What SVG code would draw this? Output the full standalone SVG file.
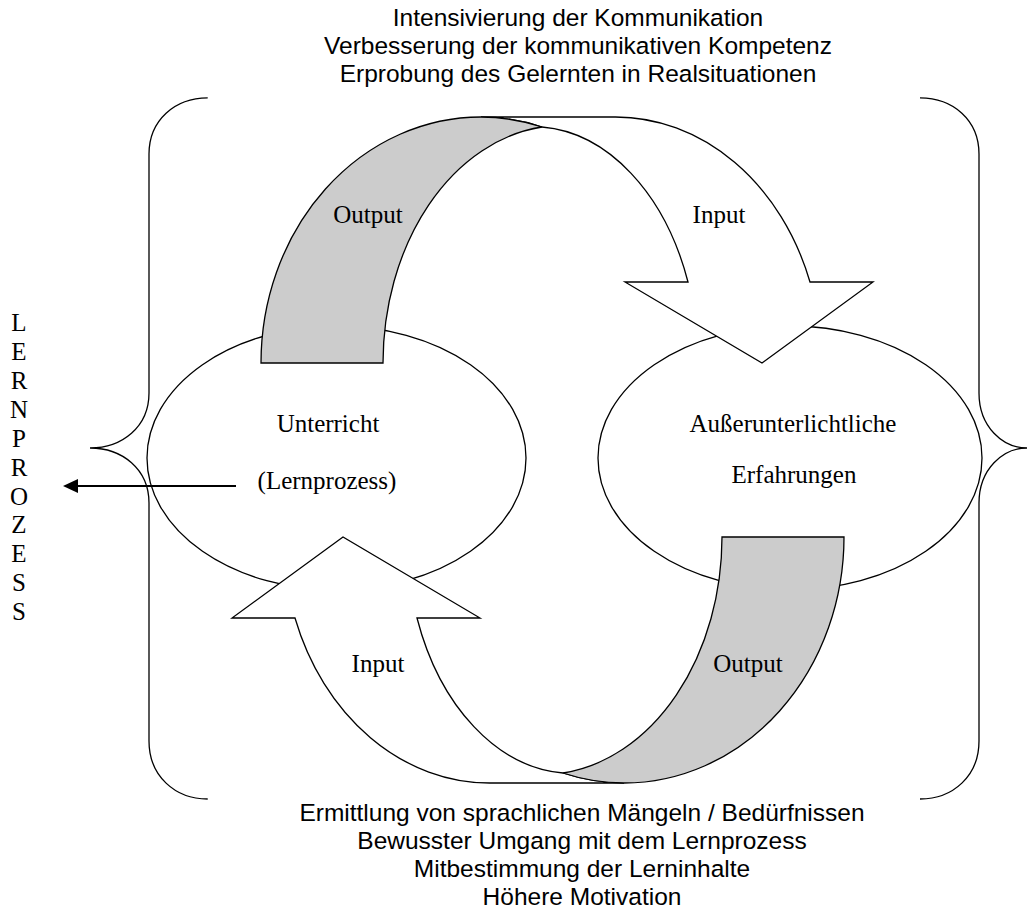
<svg xmlns="http://www.w3.org/2000/svg" width="1029" height="913" viewBox="0 0 1029 913">
<defs>
<style>
.ln{fill:none;stroke:#000;stroke-width:1.3}
.wh{fill:#fff;stroke:#000;stroke-width:1.3;stroke-linejoin:miter}
.gr{fill:#ccc;stroke:#000;stroke-width:1.3}
.con{fill:none;stroke:#000;stroke-width:2}
.sans{font-family:"Liberation Sans",Arial,sans-serif;font-size:24.5px;fill:#000;text-anchor:middle}
.serif{font-family:"Liberation Serif","Times New Roman",serif;font-size:25px;fill:#000;text-anchor:middle}
</style>
<g id="curved-arrow">
<path class="wh" d="M481,117 L615,117 A206,246 0 0 1 810,282 L873,282 L762,363 L625,282 L688,282 A166,238 0 0 0 542,127 A220,246 0 0 0 481,117 Z"/>
<path class="gr" d="M261,363 A220,246 0 0 1 481,117 A220,246 0 0 1 542,127 A180,238 0 0 0 383,363 Z"/>
</g>
<marker id="ah" markerWidth="16" markerHeight="14" refX="8" refY="7" orient="auto" markerUnits="userSpaceOnUse">
<path d="M0,0 L15,7 L0,14 Z" fill="#000"/>
</marker>
</defs>
<rect x="0" y="0" width="1029" height="913" fill="#fff"/>

<g id="top-text">
<text class="sans" x="578" y="26">Intensivierung der Kommunikation</text>
<text class="sans" x="578" y="54">Verbesserung der kommunikativen Kompetenz</text>
<text class="sans" x="578" y="82">Erprobung des Gelernten in Realsituationen</text>
</g>

<g id="bottom-text">
<text class="sans" x="582" y="821">Ermittlung von sprachlichen Mängeln / Bedürfnissen</text>
<text class="sans" x="582" y="849">Bewusster Umgang mit dem Lernprozess</text>
<text class="sans" x="582" y="877">Mitbestimmung der Lerninhalte</text>
<text class="sans" x="582" y="905">Höhere Motivation</text>
</g>

<g id="brace-left">
<path class="ln" d="M207.7,97.8 C175,97.8 149,120 149,154 L149,393 C149,427 122,448 90,448 C122,448 149,469 149,503 L149,741 C149,776 175,799 207.7,799"/>
</g>
<g id="brace-right">
<path class="ln" d="M920,97.8 C953,97.8 979,120 979,154 L979,393 C979,427 1003,448 1027,448 C1003,448 979,469 979,503 L979,741 C979,776 953,799 920,799"/>
</g>

<g id="lernprozess-label" font-family="'Liberation Serif','Times New Roman',serif" font-size="25" text-anchor="middle">
<text x="19" y="331">L</text>
<text x="19" y="360">E</text>
<text x="19" y="389">R</text>
<text x="19" y="418">N</text>
<text x="19" y="447">P</text>
<text x="19" y="476">R</text>
<text x="19" y="505">O</text>
<text x="19" y="533">Z</text>
<text x="19" y="562">E</text>
<text x="19" y="591">S</text>
<text x="19" y="620">S</text>
</g>

<g id="node-unterricht">
<ellipse class="ln" cx="336.5" cy="458" rx="189.5" ry="132"/>
<text class="serif" x="328" y="432">Unterricht</text>
<text class="serif" x="327" y="489">(Lernprozess)</text>
</g>

<g id="node-erfahrungen">
<ellipse class="ln" cx="790" cy="458" rx="192" ry="132"/>
<text class="serif" x="793" y="432">Außerunterlichtliche</text>
<text class="serif" x="794" y="483">Erfahrungen</text>
</g>

<g id="arrow-top">
<use href="#curved-arrow"/>
<text class="serif" x="368" y="223">Output</text>
<text class="serif" x="719" y="223">Input</text>
</g>

<g id="arrow-bottom">
<use href="#curved-arrow" transform="rotate(180 552.5 450)"/>
<text class="serif" x="378" y="672">Input</text>
<text class="serif" x="748" y="672">Output</text>
</g>

<g id="connectors">
<line class="con" x1="236" y1="486" x2="70" y2="486" marker-end="url(#ah)"/>
</g>
</svg>
